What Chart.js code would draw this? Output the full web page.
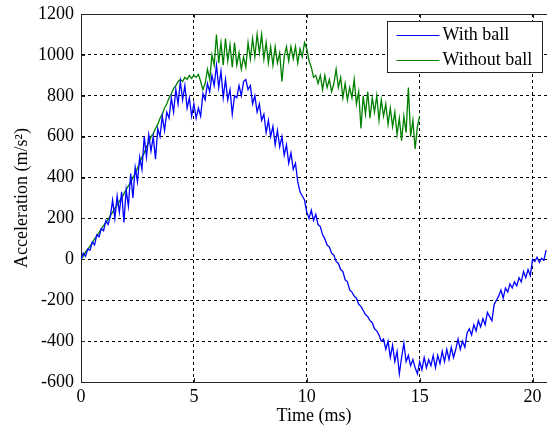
<!DOCTYPE html>
<html>
<head>
<meta charset="utf-8">
<script src="https://cdn.jsdelivr.net/npm/chart.js@4/dist/chart.umd.min.js"></script>
<style>
  html, body { margin: 0; padding: 0; background: #ffffff; }
  #wrap { width: 547px; height: 430px; }
</style>
</head>
<body>
<div id="wrap"><canvas id="c" width="547" height="430"></canvas></div>
<script>
// ---- Data ----
const timeStep = 0.1;               // ms between samples
const seriesNames = ["With ball", "Without ball"];
const xTicks = [0, 5, 10, 15, 20];
const yTicks = [-600, -400, -200, 0, 200, 400, 600, 800, 1000, 1200];

// Acceleration (m/s^2), "With ball", samples from t = 0 ms to 20.6 ms
const withBall = [
  0, 30, 15, 50, 45, 85, 70, 120, 110, 150,
  140, 190, 170, 210, 290, 200, 310, 230, 330, 180,
  340, 260, 420, 300, 450, 380, 500, 440, 600, 500,
  610, 530, 600, 490, 640, 600, 700, 630, 720, 690,
  790, 720, 830, 760, 870, 780, 850, 740, 790, 700,
  760, 690, 740, 700, 810, 780, 860, 820, 900, 850,
  950, 840, 920, 790, 880, 780, 830, 710, 800, 790,
  850, 800, 870, 880, 830, 850, 760, 800, 720, 760,
  680, 710, 620, 680, 600, 650, 560, 630, 550, 600,
  510, 560, 470, 520, 440, 470, 380, 330, 310, 290,
  230, 200, 240, 190, 220, 170, 160, 120, 100, 70,
  60, 30, 20, -10, -20, -50, -60, -100, -110, -150,
  -160, -180, -190, -220, -230, -250, -270, -280, -300, -310,
  -340, -350, -370, -400, -390, -440, -400, -480, -420, -500,
  -450, -560, -480, -410, -500, -470, -520, -490, -530, -560,
  -500, -540, -480, -530, -490, -520, -470, -530, -470, -510,
  -450, -500, -440, -490, -430, -480, -440, -390, -440, -400,
  -430, -360, -340, -370, -320, -350, -300, -330, -290, -320,
  -260, -280, -300, -220, -200, -180, -150, -190, -140, -160,
  -120, -140, -110, -130, -90, -110, -60, -90, -50, -80,
  0, -10, 10, -15, 5, -5, 45
];

// Acceleration (m/s^2), "Without ball", samples from t = 0 ms to 15.0 ms
const withoutBall = [
  0, 15, 35, 50, 65, 80, 100, 115, 130, 150,
  165, 180, 195, 215, 230, 250, 265, 285, 300, 320,
  340, 360, 375, 400, 420, 445, 470, 500, 520, 550,
  570, 600, 615, 640, 660, 690, 710, 740, 760, 790,
  810, 835, 850, 870, 880, 870, 890, 880, 900, 885,
  900, 890, 905, 870, 830, 860, 930, 880, 1000, 950,
  1100, 960, 1060, 950, 1080, 970, 1050, 940, 1060, 950,
  1010, 930, 990, 940, 1060, 980, 1080, 990, 1100, 1010,
  1100, 980, 1060, 960, 1040, 950, 1040, 960, 1010, 870,
  990, 1040, 970, 1040, 980, 1040, 960, 1030, 990, 1060,
  1030, 970, 940, 890, 900, 860, 900, 830, 900, 840,
  880, 820, 860, 930, 840, 890, 790, 860, 780, 840,
  790, 880, 760, 820, 640, 800, 710, 820, 690, 790,
  720, 800, 680, 780, 700, 760, 660, 740, 650, 720,
  610, 690, 580, 700, 620, 840, 600, 680, 540, 650,
  700
];

const toPoints = vals => vals.map((v, i) => ({ x: Math.round(i * timeStep * 10) / 10, y: v }));

const FONT = "'Liberation Serif', 'Times New Roman', serif";
const FSIZE = 18;

const frameAndLegend = {
  id: 'frameAndLegend',
  afterDraw(chart) {
    const { ctx, chartArea: a, scales } = chart;
    ctx.save();
    ctx.strokeStyle = '#262626';
    ctx.lineWidth = 1;
    // top frame line
    ctx.beginPath();
    ctx.moveTo(a.left, a.top + 0.5);
    ctx.lineTo(a.right, a.top + 0.5);
    ctx.stroke();
    // inward tick marks
    ctx.beginPath();
    xTicks.forEach(v => {
      const x = Math.round(scales.x.getPixelForValue(v)) + 0.5;
      ctx.moveTo(x, a.bottom); ctx.lineTo(x, a.bottom - 4);
      ctx.moveTo(x, a.top); ctx.lineTo(x, a.top + 4);
    });
    yTicks.forEach(v => {
      const y = Math.round(scales.y.getPixelForValue(v)) + 0.5;
      ctx.moveTo(a.left, y); ctx.lineTo(a.left + 4, y);
    });
    ctx.stroke();

    // legend box
    const bx = a.right - 159.5, by = a.top + 7.5, bw = 155, bh = 51;
    ctx.fillStyle = '#ffffff';
    ctx.fillRect(bx, by, bw, bh);
    ctx.strokeStyle = '#262626';
    ctx.strokeRect(bx, by, bw, bh);
    ctx.font = FSIZE + 'px ' + FONT;
    ctx.textBaseline = 'middle';
    ctx.textAlign = 'left';
    chart.data.datasets.forEach((ds, i) => {
      const y = Math.round(by + 13 + i * 25) + 0.5;
      ctx.strokeStyle = ds.borderColor;
      ctx.beginPath();
      ctx.moveTo(bx + 9, y);
      ctx.lineTo(bx + 52, y);
      ctx.stroke();
      ctx.fillStyle = '#000000';
      ctx.fillText(ds.label, bx + 55, y);
    });
    ctx.restore();
  }
};

new Chart(document.getElementById('c'), {
  type: 'line',
  data: {
    datasets: [
      { label: seriesNames[0], data: toPoints(withBall), borderColor: '#0000ff', backgroundColor: '#0000ff' },
      { label: seriesNames[1], data: toPoints(withoutBall), borderColor: '#008000', backgroundColor: '#008000' }
    ]
  },
  options: {
    responsive: false,
    animation: false,
    layout: { padding: { top: 14, right: 0, left: 0, bottom: 0 } },
    elements: { point: { radius: 0 }, line: { borderWidth: 1.3, tension: 0 } },
    plugins: { legend: { display: false }, tooltip: { enabled: false } },
    scales: {
      x: {
        type: 'linear',
        min: 0,
        max: 20.64,
        afterBuildTicks: s => { s.ticks = xTicks.map(v => ({ value: v })); },
        afterFit: s => { s.height = 48; s.paddingLeft = 0; s.paddingRight = 0; },
        ticks: { color: '#000', font: { family: FONT, size: FSIZE }, padding: 4, maxRotation: 0, autoSkip: false,
                 callback: v => String(v) },
        grid: { color: '#000', drawTicks: false, lineWidth: 1 },
        border: { display: true, color: '#262626', dash: [3, 3] },
        title: { display: true, text: 'Time (ms)', color: '#000', font: { family: FONT, size: FSIZE }, padding: { top: 0, bottom: 3 } }
      },
      y: {
        type: 'linear',
        min: -600,
        max: 1200,
        afterBuildTicks: s => { s.ticks = yTicks.map(v => ({ value: v })); },
        afterFit: s => { s.width = 81; s.paddingTop = 0; s.paddingBottom = 0; },
        ticks: { color: '#000', font: { family: FONT, size: FSIZE }, padding: 7, callback: v => String(v) },
        grid: { color: '#000', drawTicks: false, lineWidth: 1 },
        border: { display: true, color: '#262626', dash: [3, 3] },
        title: { display: true, text: 'Acceleration (m/s²)', color: '#000', font: { family: FONT, size: FSIZE }, padding: { top: 11, bottom: 0 } }
      }
    }
  },
  plugins: [frameAndLegend]
});
</script>
</body>
</html>
